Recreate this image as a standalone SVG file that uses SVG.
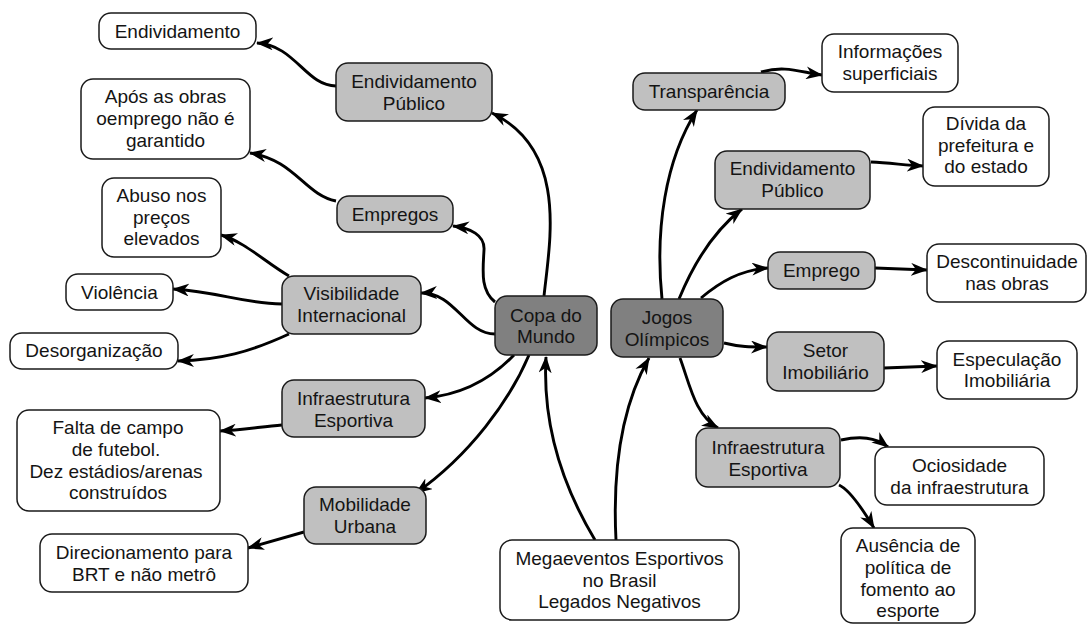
<svg xmlns="http://www.w3.org/2000/svg" width="1088" height="624" viewBox="0 0 1088 624">
<defs>
<marker id="ah" viewBox="0 0 17 13" markerWidth="17" markerHeight="13" refX="16" refY="6.5" orient="auto" markerUnits="userSpaceOnUse">
<path d="M0,0 L17,6.5 L0,13 L5,6.5 Z" fill="#000"/>
</marker>
<style>
rect{stroke:#1a1a1a;stroke-width:1.5}
.w{fill:#fff}
.g{fill:#c0c0c0}
.d{fill:#808080}
text{font-family:"Liberation Sans",Arial,sans-serif;font-size:19px;fill:#141414;text-anchor:middle}
#connectors path{fill:none;stroke:#000;stroke-width:2.9;marker-end:url(#ah)}
</style>
</defs>
<rect width="1088" height="624" fill="#fff" style="stroke:none"/>
<g id="connectors">
<path d="M595,540 C565,490 542,430 546,357"/>
<path d="M616,540 C612,460 625,400 649,358"/>
<path d="M336,86 C306,86 295,45 257,43"/>
<path d="M544,296 C550,240 568,150 492,113"/>
<path d="M336,201 C305,195 295,160 250,153"/>
<path d="M495,302 C480,290 483,270 484,250 C485,235 470,228 453,226"/>
<path d="M289,276 C265,262 245,242 221,235"/>
<path d="M282,304 C240,303 220,292 173,289"/>
<path d="M289,334 C250,352 220,360 178,361"/>
<path d="M495,334 C465,334 455,292 421,293"/>
<path d="M514,355 C490,380 460,395 425,398"/>
<path d="M282,425 C260,427 240,430 220,431"/>
<path d="M529,355 C510,400 470,455 416,493"/>
<path d="M304,532 L248,548"/>
<path d="M662,299 C655,230 665,160 697,110"/>
<path d="M761,72 C785,65 800,72 822,75"/>
<path d="M679,299 C695,260 715,230 742,209"/>
<path d="M871,162 C890,163 905,165 923,166"/>
<path d="M701,298 C720,282 740,270 768,268"/>
<path d="M875,268 L927,270"/>
<path d="M724,343 C740,347 750,347 767,347"/>
<path d="M884,368 L937,366"/>
<path d="M680,358 C690,385 695,415 718,428"/>
<path d="M841,440 C860,436 875,437 888,447"/>
<path d="M839,485 C850,490 862,508 874,528"/>
</g>
<g id="n-endiv"><rect class="w" x="99" y="13" width="157" height="36" rx="12"/><text x="177.5" y="38">Endividamento</text></g>
<g id="n-ep-l"><rect class="g" x="336" y="63" width="156" height="58" rx="12"/><text x="414" y="88">Endividamento</text><text x="414" y="110">Público</text></g>
<g id="n-apos"><rect class="w" x="81" y="79" width="169" height="80" rx="12"/><text x="165.5" y="103">Após as obras</text><text x="165.5" y="125">oemprego não é</text><text x="165.5" y="147">garantido</text></g>
<g id="n-empregos"><rect class="g" x="337" y="196" width="116" height="36" rx="12"/><text x="395" y="221">Empregos</text></g>
<g id="n-abuso"><rect class="w" x="102" y="178" width="119" height="79" rx="12"/><text x="161.5" y="202">Abuso nos</text><text x="161.5" y="224">preços</text><text x="161.5" y="245">elevados</text></g>
<g id="n-violencia"><rect class="w" x="66" y="274" width="107" height="36" rx="12"/><text x="119.5" y="299">Violência</text></g>
<g id="n-visib"><rect class="g" x="282" y="276" width="139" height="58" rx="12"/><text x="351.5" y="300">Visibilidade</text><text x="351.5" y="322">Internacional</text></g>
<g id="n-desorg"><rect class="w" x="10" y="333" width="168" height="36" rx="12"/><text x="94" y="357">Desorganização</text></g>
<g id="n-infra-l"><rect class="g" x="282" y="380" width="143" height="57" rx="12"/><text x="353.5" y="405">Infraestrutura</text><text x="353.5" y="427">Esportiva</text></g>
<g id="n-falta"><rect class="w" x="17" y="410" width="203" height="101" rx="12"/><text x="118" y="434">Falta de campo</text><text x="116" y="456">de futebol.</text><text x="116" y="478">Dez estádios/arenas</text><text x="118" y="499">construídos</text></g>
<g id="n-mobil"><rect class="g" x="304" y="487" width="122" height="57" rx="12"/><text x="365" y="511">Mobilidade</text><text x="365" y="533">Urbana</text></g>
<g id="n-direc"><rect class="w" x="40" y="534" width="208" height="58" rx="12"/><text x="144" y="559">Direcionamento para</text><text x="144" y="581">BRT e não metrô</text></g>
<g id="n-copa"><rect class="d" x="495" y="296" width="102" height="59" rx="12"/><text x="546" y="322">Copa do</text><text x="546" y="343">Mundo</text></g>
<g id="n-jogos"><rect class="d" x="611" y="299" width="112" height="58" rx="12"/><text x="667" y="324">Jogos</text><text x="667" y="346">Olímpicos</text></g>
<g id="n-mega"><rect class="w" x="500" y="540" width="239" height="80" rx="12"/><text x="619.5" y="565">Megaeventos Esportivos</text><text x="619.5" y="587">no Brasil</text><text x="619.5" y="608">Legados Negativos</text></g>
<g id="n-transp"><rect class="g" x="633" y="73" width="152" height="37" rx="12"/><text x="709" y="98">Transparência</text></g>
<g id="n-inform"><rect class="w" x="822" y="34" width="136" height="58" rx="12"/><text x="890" y="58">Informações</text><text x="890" y="80">superficiais</text></g>
<g id="n-ep-r"><rect class="g" x="715" y="151" width="155" height="58" rx="12"/><text x="792.5" y="175">Endividamento</text><text x="792.5" y="197">Público</text></g>
<g id="n-divida"><rect class="w" x="923" y="107" width="126" height="79" rx="12"/><text x="986" y="130">Dívida da</text><text x="986" y="152">prefeitura e</text><text x="986" y="173">do estado</text></g>
<g id="n-emprego"><rect class="g" x="768" y="252" width="107" height="37" rx="12"/><text x="821.5" y="277">Emprego</text></g>
<g id="n-descont"><rect class="w" x="927" y="244" width="159" height="58" rx="12"/><text x="1007" y="268">Descontinuidade</text><text x="1007" y="290">nas obras</text></g>
<g id="n-setor"><rect class="g" x="767" y="332" width="117" height="59" rx="12"/><text x="825.5" y="357">Setor</text><text x="825.5" y="379">Imobiliário</text></g>
<g id="n-especul"><rect class="w" x="937" y="341" width="140" height="58" rx="12"/><text x="1007" y="366">Especulação</text><text x="1007" y="387">Imobiliária</text></g>
<g id="n-infra-r"><rect class="g" x="696" y="428" width="144" height="59" rx="12"/><text x="768" y="454">Infraestrutura</text><text x="768" y="476">Esportiva</text></g>
<g id="n-ocios"><rect class="w" x="875" y="447" width="169" height="58" rx="12"/><text x="959.5" y="472">Ociosidade</text><text x="959.5" y="494">da infraestrutura</text></g>
<g id="n-ausencia"><rect class="w" x="841" y="528" width="134" height="95" rx="12"/><text x="908" y="552">Ausência de</text><text x="908" y="574">política de</text><text x="908" y="596">fomento ao</text><text x="908" y="617">esporte</text></g>
</svg>
